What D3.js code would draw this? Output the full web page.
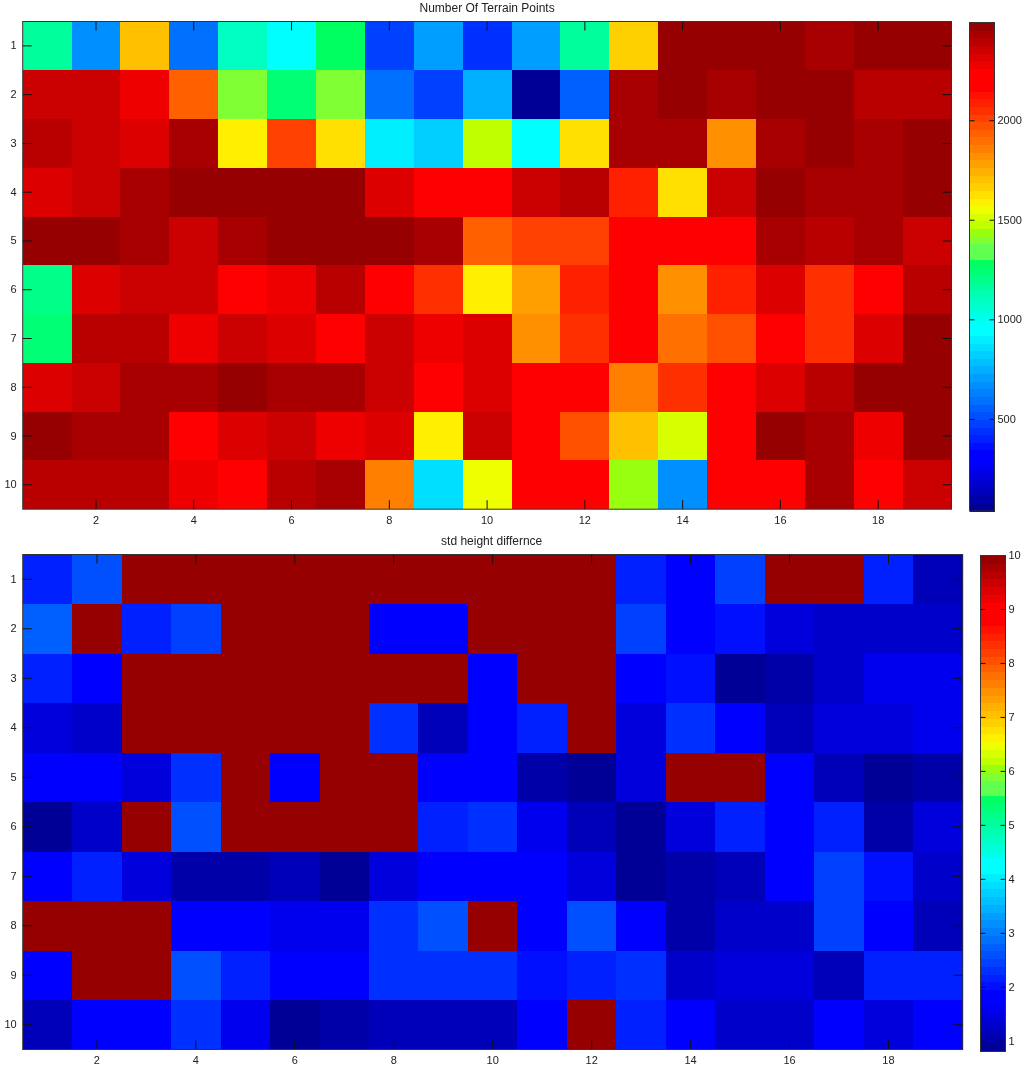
<!DOCTYPE html>
<html>
<head>
<meta charset="utf-8">
<script src="https://cdn.jsdelivr.net/npm/d3@7"></script>
<style>
  html, body { margin: 0; background: #fff; }
  svg { display: block; filter: blur(0.35px); }
  text { font-family: "Liberation Sans", Arial, sans-serif; font-size: 11px; fill: #222; }
  .title { font-size: 12px; }
  .axis path { display: none; }
  .axis line { stroke: #111; }
  .frame { fill: none; stroke: #333; }
</style>
</head>
<body>
<div class="canvas"></div>
<script>
const columns = d3.range(1, 20)
const rows = d3.range(1, 11)
const columnTicks = [2, 4, 6, 8, 10, 12, 14, 16, 18]
const rowTicks = [1, 2, 3, 4, 5, 6, 7, 8, 9, 10]

const terrainTitle = 'Number Of Terrain Points'
const terrainLimits = [40, 2493]
const terrainBarTicks = [500, 1000, 1500, 2000]
const terrainPoints = [
  [1170, 672, 1707, 595, 1094, 940, 1285, 480, 710, 442, 710, 1170, 1669, 2474, 2474, 2474, 2435, 2474, 2474],
  [2359, 2359, 2282, 1937, 1400, 1247, 1400, 595, 480, 749, 59, 557, 2435, 2474, 2435, 2474, 2474, 2397, 2397],
  [2397, 2359, 2320, 2435, 1592, 2014, 1630, 902, 825, 1477, 940, 1630, 2435, 2435, 1822, 2435, 2474, 2435, 2474],
  [2320, 2359, 2435, 2474, 2474, 2474, 2474, 2320, 2205, 2205, 2359, 2397, 2090, 1630, 2359, 2474, 2435, 2435, 2474],
  [2474, 2474, 2435, 2359, 2435, 2474, 2474, 2474, 2435, 1937, 2014, 2014, 2205, 2205, 2205, 2435, 2397, 2435, 2359],
  [1208, 2320, 2359, 2359, 2205, 2282, 2397, 2205, 2052, 1592, 1784, 2090, 2205, 1822, 2090, 2320, 2052, 2205, 2397],
  [1247, 2397, 2397, 2282, 2359, 2320, 2205, 2359, 2282, 2320, 1822, 2052, 2244, 1899, 1975, 2205, 2052, 2320, 2474],
  [2320, 2359, 2435, 2435, 2474, 2435, 2435, 2359, 2205, 2320, 2205, 2205, 1860, 2052, 2205, 2320, 2397, 2474, 2474],
  [2474, 2435, 2435, 2205, 2320, 2359, 2282, 2320, 1592, 2359, 2205, 1975, 1707, 1515, 2205, 2474, 2435, 2282, 2474],
  [2397, 2397, 2397, 2282, 2205, 2397, 2435, 1860, 864, 1554, 2205, 2244, 1439, 672, 2205, 2244, 2435, 2205, 2359]
]

const heightTitle = 'std height differnce'
const heightLimits = [0.81, 10]
const heightBarTicks = [1, 2, 3, 4, 5, 6, 7, 8, 9, 10]
const heightStd = [
  [2.17, 2.6, 9.93, 9.93, 9.93, 9.93, 9.93, 9.93, 9.93, 9.93, 9.93, 9.93, 2.17, 1.89, 2.46, 9.93, 9.93, 2.17, 1.17],
  [2.75, 9.93, 2.17, 2.46, 9.93, 9.93, 9.93, 1.89, 1.89, 9.93, 9.93, 9.93, 2.46, 1.89, 2.03, 1.46, 1.31, 1.31, 1.31],
  [2.17, 1.89, 9.93, 9.93, 9.93, 9.93, 9.93, 9.93, 9.93, 1.74, 9.93, 9.93, 1.89, 2.03, 0.88, 1.03, 1.31, 1.6, 1.6],
  [1.46, 1.31, 9.93, 9.93, 9.93, 9.93, 9.93, 2.32, 1.17, 1.74, 2.17, 9.93, 1.46, 2.32, 1.89, 1.17, 1.46, 1.46, 1.6],
  [1.89, 1.74, 1.46, 2.32, 9.93, 1.74, 9.93, 9.93, 1.89, 1.74, 1.03, 0.88, 1.46, 9.93, 9.93, 1.89, 1.17, 0.88, 1.03],
  [0.88, 1.31, 9.93, 2.6, 9.93, 9.93, 9.93, 9.93, 2.17, 2.32, 1.6, 1.17, 0.88, 1.46, 2.17, 1.89, 2.17, 1.03, 1.46],
  [1.89, 2.17, 1.46, 1.03, 1.03, 1.17, 0.88, 1.46, 1.89, 1.89, 1.89, 1.46, 0.88, 1.03, 1.17, 1.74, 2.46, 2.03, 1.31],
  [9.93, 9.93, 9.93, 1.89, 1.89, 1.6, 1.6, 2.32, 2.6, 9.93, 1.89, 2.6, 1.89, 1.03, 1.31, 1.31, 2.46, 1.74, 1.17],
  [1.89, 9.93, 9.93, 2.6, 2.17, 1.74, 1.89, 2.32, 2.32, 2.32, 2.03, 2.17, 2.32, 1.31, 1.46, 1.46, 1.17, 2.17, 2.17],
  [1.17, 1.89, 1.89, 2.32, 1.6, 0.88, 1.03, 1.17, 1.17, 1.17, 1.89, 9.93, 2.17, 1.74, 1.31, 1.31, 1.89, 1.46, 1.89]
]

// 64 level jet as it looks in the picture, flat at pure blue and pure red,
// with a jump from spring green to lime in the middle
const jetRamp = d3.scaleLinear()
  .domain([1, 7, 8, 24, 25, 33, 34, 35, 36, 37, 38, 39, 40, 41, 56, 58, 64])
  .range(['#000096', '#0000ff', '#0000ff', '#00ffff', '#00ffff', '#00ff60', '#60ff50', '#60ff50',
    '#80ff35', '#98ff10', '#c0ff00', '#d8ff00', '#f0ff00', '#fff000', '#ff0000', '#ff0000', '#960000'])
const jet = d3.range(1, 65).map(level => jetRamp(level))

const svg = d3.select('.canvas')
  .append('svg')
  .attr('width', 1024)
  .attr('height', 1068)

function drawPanel({title, matrix, limits, barTicks, plot, bar}) {
  const x = d3.scaleLinear().domain([0.5, 19.5]).range([plot.left, plot.right])
  const y = d3.scaleLinear().domain([0.5, 10.5]).range([plot.top, plot.bottom])
  const barY = d3.scaleLinear().domain(limits).range([bar.bottom, bar.top])
  const colour = d3.scaleQuantize().domain(limits).range(jet)

  const cells = rows.flatMap(row => columns.map(column => ({
    row,
    column,
    value: matrix[row - 1][column - 1]
  })))

  const panel = svg.append('g')

  panel.append('g')
    .selectAll('rect')
    .data(cells)
    .join('rect')
    .attr('shape-rendering', 'crispEdges')
    .attr('x', d => x(d.column - 0.5))
    .attr('y', d => y(d.row - 0.5))
    .attr('width', d => x(d.column + 0.5) - x(d.column - 0.5))
    .attr('height', d => y(d.row + 0.5) - y(d.row - 0.5))
    .attr('fill', d => colour(d.value))

  // ticks sit inside the frame on all four sides, labels only left and below
  panel.append('g')
    .attr('class', 'axis')
    .attr('transform', `translate(0, ${plot.bottom})`)
    .call(d3.axisBottom(x).offset(0).tickValues(columnTicks).tickSize(-9).tickPadding(7))
  panel.append('g')
    .attr('class', 'axis')
    .attr('transform', `translate(0, ${plot.top})`)
    .call(d3.axisTop(x).offset(0).tickValues(columnTicks).tickSize(-9).tickFormat(''))
  panel.append('g')
    .attr('class', 'axis')
    .attr('transform', `translate(${plot.left}, 0)`)
    .call(d3.axisLeft(y).offset(0).tickValues(rowTicks).tickSize(-9).tickPadding(6))
  panel.append('g')
    .attr('class', 'axis')
    .attr('transform', `translate(${plot.right}, 0)`)
    .call(d3.axisRight(y).offset(0).tickValues(rowTicks).tickSize(-9).tickFormat(''))

  panel.append('rect')
    .attr('class', 'frame')
    .attr('x', plot.left)
    .attr('y', plot.top)
    .attr('width', plot.right - plot.left)
    .attr('height', plot.bottom - plot.top)

  panel.append('text')
    .attr('class', 'title')
    .attr('x', (plot.left + plot.right) / 2 - (plot.titleShift || 0))
    .attr('y', plot.top - 10)
    .attr('text-anchor', 'middle')
    .text(title)

  // colour bar, one rect for each level of the map
  const step = (limits[1] - limits[0]) / jet.length
  panel.append('g')
    .selectAll('rect')
    .data(jet)
    .join('rect')
    .attr('shape-rendering', 'crispEdges')
    .attr('x', bar.left)
    .attr('y', (d, i) => barY(limits[0] + (i + 1) * step))
    .attr('width', bar.right - bar.left)
    .attr('height', (d, i) => barY(limits[0] + i * step) - barY(limits[0] + (i + 1) * step) + 0.5)
    .attr('fill', d => d)

  panel.append('g')
    .attr('class', 'axis')
    .attr('transform', `translate(${bar.right}, 0)`)
    .call(d3.axisRight(barY).offset(0).tickValues(barTicks).tickSize(-5).tickPadding(3).tickFormat(d3.format('d')))
  panel.append('g')
    .attr('class', 'axis')
    .attr('transform', `translate(${bar.left}, 0)`)
    .call(d3.axisLeft(barY).offset(0).tickValues(barTicks).tickSize(-5).tickFormat(''))

  panel.append('rect')
    .attr('class', 'frame')
    .attr('x', bar.left)
    .attr('y', bar.top)
    .attr('width', bar.right - bar.left)
    .attr('height', bar.bottom - bar.top)
}

drawPanel({
  title: terrainTitle,
  matrix: terrainPoints,
  limits: terrainLimits,
  barTicks: terrainBarTicks,
  plot: {left: 22.7, right: 951.5, top: 21.5, bottom: 509.2},
  bar: {left: 969.5, right: 994.5, top: 22.5, bottom: 511}
})

drawPanel({
  title: heightTitle,
  matrix: heightStd,
  limits: heightLimits,
  barTicks: heightBarTicks,
  plot: {left: 22.7, right: 962.7, top: 554.5, bottom: 1049.5, titleShift: 1},
  bar: {left: 980.5, right: 1005.5, top: 555.5, bottom: 1051.5}
})
</script>
</body>
</html>
